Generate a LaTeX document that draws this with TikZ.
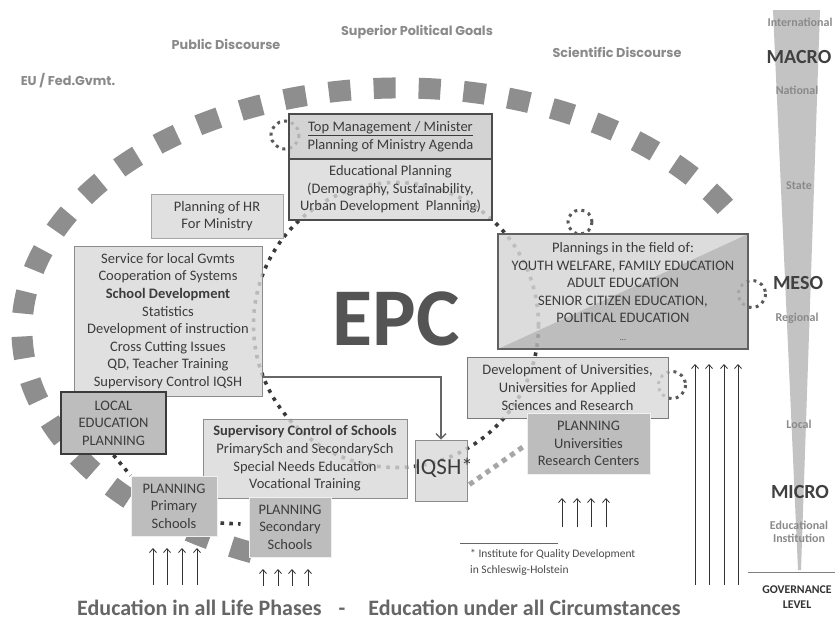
\documentclass[tikz,border=0pt]{standalone}
\usepackage{fontspec}
\setmainfont{Carlito}
\newfontfamily\geo{Poppins}
\usetikzlibrary{arrows.meta,calc}
\definecolor{arcg}{HTML}{8E8E8E}
\definecolor{dotg}{HTML}{3A3A3A}
\definecolor{loopg}{HTML}{5A5A5A}
\definecolor{boxf}{HTML}{D9D9D9}
\definecolor{darkf}{HTML}{BDBDBD}
\definecolor{txt}{HTML}{3C3C3C}
\definecolor{labg}{HTML}{8A8A8A}
\definecolor{barg}{HTML}{C3C3C3}
\definecolor{planl}{HTML}{D6D6D6}
\definecolor{pland}{HTML}{B2B2B2}
\definecolor{topf}{HTML}{C9C9C9}
\definecolor{lightdot}{HTML}{A6A6A6}
\tikzset{
  box/.style={draw=#1, fill=boxf, fill opacity=0.8, text opacity=1, inner sep=0pt,
    align=center, text=txt, line width=0.8pt, font=\fontsize{14.5}{17.6}\selectfont},
  box/.default={black!45},
  darkbox/.style={draw=white!94!black, fill=darkf, inner sep=0pt, align=center,
    text=txt, line width=1pt, font=\fontsize{14.5}{17.6}\selectfont},
  bigarc/.style={draw=arcg, line width=21pt, dash pattern=on 22pt off 23pt},
  dotcircle/.style={draw=dotg, line width=3.6pt, dash pattern=on 3.6pt off 5.6pt},
  loopdots/.style={draw=loopg, line width=3pt, dash pattern=on 3pt off 4.2pt},
  darkdots/.style={draw=dotg, line width=3.6pt, dash pattern=on 3.6pt off 5.2pt},
  greydots/.style={draw=lightdot, line width=5pt, dash pattern=on 5pt off 5pt},
  uparrow/.style={draw=black!80, line width=0.8pt, -{Straight Barb[length=4pt,width=7pt]}},
  toplab/.style={font=\geo\bfseries\fontsize{12.8}{15}\selectfont, text=labg},
  barsmall/.style={font=\bfseries\fontsize{12}{13}\selectfont, text=labg},
  barbig/.style={font=\bfseries\fontsize{20}{22}\selectfont, text=black!75},
  bottomline/.style={font=\bfseries\fontsize{22}{24}\selectfont, text=black!60, inner sep=0pt},
}
\begin{document}
\begin{tikzpicture}[x=1pt,y=-1pt]
\useasboundingbox (0,0) rectangle (835,619);
\fill[white] (0,0) rectangle (835,619);

% big dashed arc
\draw[bigarc] (400,330) ++(113:378 and 242) arc[start angle=113, end angle=334, x radius=378, y radius=242];

% dotted circle through the planning boxes
\draw[dotcircle] (396,325) circle[radius=142.5];

% small dotted loops
\draw[loopdots] (285,135) circle[radius=14];
\draw[loopdots] (580,222) circle[radius=12];
\draw[loopdots] (752,294) circle[radius=13.5];
\draw[loopdots] (672,385) circle[radius=13.5];

% boxes
\node[box=black!70, fill=topf, line width=1.2pt, minimum width=203pt, minimum height=45pt] (top) at (390.5,136.5)
  {\underline{Top Management / Minister}\\Planning of Ministry Agenda};
\node[box=black!70, line width=1.2pt, minimum width=203pt, minimum height=61pt] (edu) at (390.5,189.5)
  {Educational Planning\\(Demography, Sustainability,\\Urban Development\ \ Planning)};
\node[box=black!35, minimum width=132pt, minimum height=44pt] (hr) at (217,216)
  {Planning of HR\\For Ministry};
\node[box, minimum width=188pt, minimum height=150pt] (service) at (168,321)
  {Service for local Gvmts\\Cooperation of Systems\\\textbf{School Development}\\Statistics\\Development of instruction\\Cross Cutting Issues\\QD, Teacher Training\\Supervisory Control IQSH};
\node[darkbox, draw=black!77, line width=2.2pt, minimum width=105pt, minimum height=62pt] (local) at (113.5,423)
  {LOCAL\\EDUCATION\\PLANNING};
\node[box, minimum width=204pt, minimum height=79pt] (superv) at (305,458.5)
  {\textbf{Supervisory Control of Schools}\\PrimarySch and SecondarySch\\Special Needs Education\\Vocational Training};
\node[darkbox, minimum width=86pt, minimum height=60pt] (pprim) at (174,506)
  {PLANNING\\Primary\\Schools};
\node[darkbox, minimum width=82pt, minimum height=60pt] (psec) at (290,527)
  {PLANNING\\Secondary\\Schools};
\node[box, minimum width=52pt, minimum height=61pt] (iqsh) at (441,470.5) {};
\node[font=\fontsize{23}{26}\selectfont, text=txt, inner sep=0pt] (iqshlab) at (444,468) {IQSH*};
\node[box=black!62, line width=1.2pt, fill=none, minimum width=250pt, minimum height=115pt,
  path picture={
    \fill[planl, fill opacity=0.85] (path picture bounding box.north west) -- (path picture bounding box.north east) -- (path picture bounding box.south west) -- cycle;
    \fill[pland, fill opacity=0.85] (path picture bounding box.south east) -- (path picture bounding box.north east) -- (path picture bounding box.south west) -- cycle;
  }] (plan) at (623,291.5)
  {Plannings in the field of:\\YOUTH WELFARE, FAMILY EDUCATION\\ADULT EDUCATION\\SENIOR CITIZEN EDUCATION,\\POLITICAL EDUCATION\\{\footnotesize ...}};
\node[box=black!52, minimum width=201pt, minimum height=61pt] (devu) at (567.5,387.5)
  {Development of Universities,\\Universities for Applied\\Sciences and Research};
\node[darkbox, minimum width=123pt, minimum height=61pt] (puni) at (588.5,443.5)
  {PLANNING\\Universities\\Research Centers};

% dotted connectors
\draw[darkdots] (local.south) -- (pprim.north west);
\draw[darkdots] ($(pprim.east)+(3,17)$) -- ($(psec.west)+(-8,-3)$);
\draw[greydots] ($(iqsh.east)+(2,14)$) -- ($(puni.west)+(-3,3)$);

% solid connector
\coordinate (kink) at (441,377);
\draw[draw=black!60, line width=1.4pt, -{Straight Barb[length=5pt,width=10pt]}] (service.east |- kink) -| (iqsh.north);

% EPC
\node[font=\bfseries\fontsize{82}{82}\selectfont, text=black!67, inner sep=0pt] (epc) at (396,319) {EPC};

% small arrows
\foreach \x in {153,167,182,197} \draw[uparrow] (\x,585) -- (\x,548);
\foreach \x in {263,278,292,308} \draw[uparrow] (\x,586) -- (\x,569);
\foreach \x in {562,577,591,606} \draw[uparrow] (\x,527) -- (\x,498);
\foreach \x in {695,709,724,738} \draw[uparrow] (\x,585) -- (\x,364);

% governance bar
\fill[barg] (773,10) -- (820,10) -- (801,570) -- (798,570) -- cycle;
\draw[draw=black!50, line width=0.8pt] (748,572) -- (835,572);
\node[barsmall] (intl) at (800,22) {International};
\node[barbig] (macro) at (799,57) {MACRO};
\node[barsmall] (natl) at (797,90) {National};
\node[barsmall] (state) at (799,186) {State};
\node[barbig] (meso) at (798,283) {MESO};
\node[barsmall] (regl) at (797,318) {Regional};
\node[barsmall] (locl) at (799,424) {Local};
\node[barbig] (micro) at (800,492) {MICRO};
\node[barsmall, align=center, font=\bfseries\fontsize{12}{13.5}\selectfont] (inst) at (799,532) {Educational\\Institution};
\node[align=center, inner sep=0pt, font=\bfseries\fontsize{11.8}{14.5}\selectfont, text=black!80] (gov) at (797,597) {GOVERNANCE\\LEVEL};

% top labels
\node[toplab] (pub) at (226,44) {Public Discourse};
\node[toplab] (spg) at (417,32) {Superior Political Goals};
\node[toplab] (sci) at (617,52) {Scientific Discourse};
\node[toplab] (eu) at (68,81) {EU / Fed.Gvmt.};

% footnote
\draw[draw=black!60, line width=0.6pt] (460,543) -- (558,543);
\node[anchor=north west, align=left, font=\fontsize{11.5}{16}\selectfont, text=black!70, inner sep=0pt] (foot) at (470,549)
  {* Institute for Quality Development\\in Schleswig-Holstein};

% bottom line
\node[bottomline, anchor=base west] (b1) at (77,615)
  {Education in all Life Phases\hspace*{17pt}-\hspace*{23pt}Education under all Circumstances};
\end{tikzpicture}
\end{document}
